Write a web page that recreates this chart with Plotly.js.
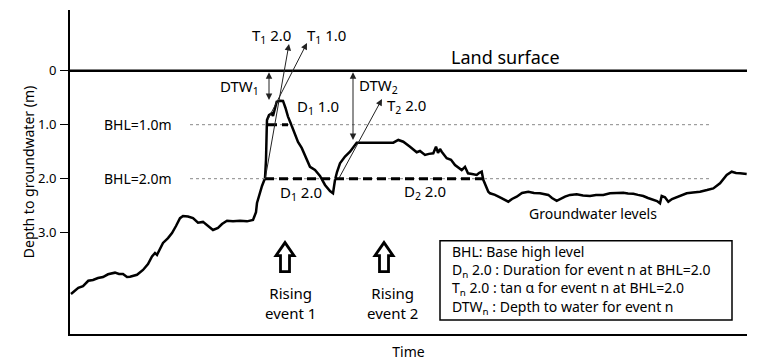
<!DOCTYPE html>
<html>
<head>
<meta charset="utf-8">
<script src="https://cdn.plot.ly/plotly-3.0.1.min.js"></script>
<style>html,body{margin:0;padding:0;background:#fff;}#chart{width:778px;height:363px;}</style>
</head>
<body>
<div id="chart"></div>
<script>
// ---- data (time units, depth to groundwater in m) ----
const time = [1,4,8.3,13,18.3,23,28,33,38,45,49,53,57,60,67,73,78,82,85,87,93,98,102,106,110,113,118,123,128,133,138,143,148,152,157,163,170,177,183,186,187,190,192,195,196,196.7,197,199,201.7,203,205,206.7,210,213,215.5,218,221,225,228,231.7,235,240,245,250,255,260,263,265,267,270,275,280,286.7,323.3,328.3,333.3,340,346.7,350,355,359,363.3,366,368,370,371.7,376.7,381,385,391.7,395,398,402,406.7,409,411.7,413.3,418.3,420,425,431,438.3,442,446.7,452,458.3,464,470,478.3,482,486.7,490,495,500,506.7,513,520,526,533.3,540,546.7,553.3,558,563.3,568,573.3,578,583.3,587,590,591.7,595,598.3,602,606.7,611,616.7,623,630,637,643.3,650,656.7,661.7,666,670,676.7];
const depth = [4.135,4.08,4.02,3.99,3.89,3.876,3.84,3.82,3.77,3.74,3.765,3.765,3.82,3.815,3.78,3.69,3.58,3.44,3.376,3.41,3.19,3.10,3.006,2.876,2.73,2.69,2.70,2.73,2.815,2.80,2.876,2.95,2.91,2.84,2.78,2.79,2.78,2.79,2.765,2.62,2.45,2.24,2.135,1.99,1.65,1.10,0.913,0.82,0.79,0.84,0.69,0.574,0.556,0.56,0.69,0.85,0.987,1.19,1.32,1.43,1.56,1.78,1.84,1.95,2.116,2.23,2.27,2.024,1.876,1.715,1.59,1.50,1.333,1.333,1.283,1.315,1.407,1.51,1.487,1.56,1.54,1.53,1.407,1.524,1.45,1.50,1.62,1.65,1.746,1.84,1.78,1.90,1.913,1.93,1.894,1.87,2.02,2.24,2.27,2.30,2.357,2.426,2.376,2.333,2.265,2.24,2.265,2.27,2.30,2.357,2.41,2.376,2.333,2.30,2.29,2.31,2.32,2.30,2.30,2.27,2.27,2.26,2.275,2.28,2.30,2.32,2.357,2.394,2.413,2.456,2.32,2.344,2.426,2.376,2.344,2.32,2.27,2.256,2.24,2.21,2.18,2.085,1.93,1.87,1.894,1.90,1.913];
const tickVals = [0, 1, 2, 3];
const tickText = ['0', '1.0', '2.0', '3.0'];
const bhlLevels = [1.0, 2.0];
const bhlLabels = ['BHL=1.0m', 'BHL=2.0m'];
const bhlSpan = [120, 641];          // dotted reference lines (time)
const d1Span = [198, 218];           // D1 1.0 duration (time)
const d2Span = [195, 413];           // D 2.0 durations (time)
const landLevel = 0;
const legendLines = [
  'BHL: Base high level',
  'D<sub>n</sub> 2.0 : Duration for event n at BHL=2.0',
  'T<sub>n</sub> 2.0 : tan \u03b1 for event n at BHL=2.0',
  'DTW<sub>n</sub> : Depth to water for event n'
];
const xMax = 677;

const FONT = 'Noto Sans, Open Sans, DejaVu Sans, sans-serif';

const traces = [
  {x: time, y: depth, type: 'scatter', mode: 'lines',
   line: {color: '#000', width: 2.5}, hoverinfo: 'skip', showlegend: false}
];

const shapes = [
  {type: 'line', xref: 'x', yref: 'y', x0: 0, x1: xMax, y0: landLevel, y1: landLevel,
   line: {color: '#000', width: 2.5}},
  ...bhlLevels.map(v => ({type: 'line', xref: 'x', yref: 'y', x0: bhlSpan[0], x1: bhlSpan[1], y0: v, y1: v,
   line: {color: '#888', width: 1, dash: 'dot'}})),
  {type: 'line', xref: 'x', yref: 'y', x0: d1Span[0], x1: d1Span[1], y0: bhlLevels[0], y1: bhlLevels[0],
   line: {color: '#000', width: 3, dash: '9px,5px'}},
  {type: 'line', xref: 'x', yref: 'y', x0: d2Span[0], x1: d2Span[1], y0: bhlLevels[1], y1: bhlLevels[1],
   line: {color: '#000', width: 3, dash: '9px,5px'}},
  {type: 'rect', xref: 'x', yref: 'y', x0: 370, x1: 662, y0: 3.148, y1: 4.617,
   line: {color: '#000', width: 1.5}, fillcolor: 'rgba(0,0,0,0)'},
  ...[215, 314].map(xa => ({type: 'path', xref: 'x', yref: 'y', xsizemode: 'pixel', ysizemode: 'pixel',
   xanchor: xa, yanchor: 3.72,
   path: 'M -4.5 0 L 4.5 0 L 4.5 16 L 9 16 L 0 29 L -9 16 L -4.5 16 Z',
   line: {color: '#000', width: 2.8}, fillcolor: '#fff'}))
];

function txt(x, y, text, opts) {
  return Object.assign({x: x, y: y, xref: 'x', yref: 'y', text: text, showarrow: false,
    font: {family: FONT, size: 15, color: '#000'}, xanchor: 'left', yanchor: 'middle'}, opts || {});
}
function arrow(x0, y0, x1, y1, both) {
  const a = {x: x1, y: y1, ax: x0, ay: y0, xref: 'x', yref: 'y', axref: 'x', ayref: 'y',
    text: '', showarrow: true, arrowhead: 2, arrowsize: 1.3, arrowwidth: 1, arrowcolor: '#222',
    standoff: 0, startstandoff: 0};
  if (both) { a.arrowside = 'end+start'; a.startarrowhead = 2; a.startarrowsize = 1.3; }
  return a;
}

const annotations = [
  txt(435, -0.254, 'Land surface', {xanchor: 'center', font: {family: FONT, size: 18, color: '#000'}}),
  ...bhlLevels.map((v, i) => txt(68, v, bhlLabels[i], {xanchor: 'center', font: {family: FONT, size: 14, color: '#000'}})),
  txt(225, 0.674, 'D<sub>1</sub> 1.0'),
  txt(208, 2.27, 'D<sub>1</sub> 2.0'),
  txt(332, 2.25, 'D<sub>2</sub> 2.0'),
  txt(180, -0.643, 'T<sub>1</sub> 2.0'),
  txt(235, -0.643, 'T<sub>1</sub> 1.0'),
  txt(315, 0.654, 'T<sub>2</sub> 2.0'),
  txt(148, 0.30, 'DTW<sub>1</sub>'),
  txt(287, 0.28, 'DTW<sub>2</sub>'),
  txt(523, 2.64, 'Groundwater levels', {xanchor: 'center', font: {family: FONT, size: 14, color: '#000'}}),
  txt(220, 4.31, 'Rising<br>event 1', {xanchor: 'center', align: 'center'}),
  txt(322, 4.31, 'Rising<br>event 2', {xanchor: 'center', align: 'center'}),
  txt(380, 3.885, legendLines.join('<br>'), {align: 'left', font: {family: FONT, size: 14, color: '#000'}}),
  arrow(195, 2.024, 219, -0.494),
  arrow(197, 0.933, 237, -0.513),
  arrow(268, 2.024, 312, 0.524),
  arrow(199, 0, 199, 0.543, true),
  arrow(283, 0, 283, 1.283, true)
];

const layout = {
  width: 778, height: 363,
  margin: {l: 70, r: 31, t: 10, b: 29},
  paper_bgcolor: '#fff', plot_bgcolor: '#fff',
  showlegend: false,
  font: {family: FONT, color: '#000'},
  xaxis: {range: [0, xMax], showgrid: false, zeroline: false, showticklabels: false, ticks: '',
    showline: true, linecolor: '#000', linewidth: 2,
    title: {text: 'Time', font: {family: FONT, size: 14, color: '#000'}, standoff: 12}},
  yaxis: {range: [4.876, -1.124], showgrid: false, zeroline: false,
    tickmode: 'array', tickvals: tickVals, ticktext: tickText,
    ticks: 'outside', ticklen: 8, tickwidth: 1.5, tickcolor: '#000',
    tickfont: {family: FONT, size: 13, color: '#000'}, ticklabelstandoff: 1,
    showline: true, linecolor: '#000', linewidth: 2,
    title: {text: 'Depth to groundwater (m)', font: {family: FONT, size: 14, color: '#000'}, standoff: 0}},
  shapes: shapes,
  annotations: annotations
};

Plotly.newPlot('chart', traces, layout, {staticPlot: true, displayModeBar: false});
</script>
</body>
</html>
